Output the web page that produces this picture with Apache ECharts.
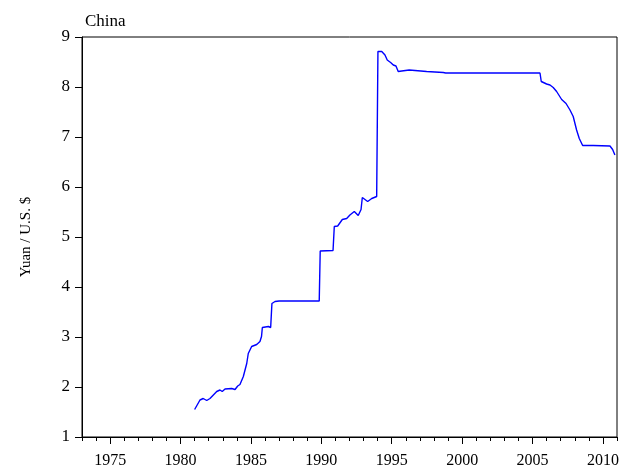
<!DOCTYPE html>
<html>
<head>
<meta charset="utf-8">
<script src="https://cdn.jsdelivr.net/npm/echarts@6/dist/echarts.min.js"></script>
<style>
  html, body { margin: 0; padding: 0; background: #fff; }
  #chart { width: 626px; height: 470px; }
</style>
</head>
<body>
<div id="chart"></div>
<script>
// Yuan per U.S. dollar, China (decimal year, rate)
const years = [
  1981.00, 1981.38, 1981.61, 1981.86, 1982.09, 1982.33, 1982.40, 1982.57, 1982.80, 1982.96,
  1983.16, 1983.63, 1983.87, 1984.06, 1984.22, 1984.46, 1984.70, 1984.81, 1985.05, 1985.41,
  1985.64, 1985.75, 1985.81, 1986.24, 1986.40, 1986.49, 1986.71, 1987.00, 1989.85, 1989.92,
  1990.05, 1990.83, 1990.92, 1991.16, 1991.49, 1991.80, 1992.03, 1992.34, 1992.62, 1992.82,
  1992.91, 1993.05, 1993.29, 1993.58, 1993.93, 1994.02, 1994.29, 1994.52, 1994.68, 1994.92,
  1995.11, 1995.30, 1995.46, 1995.71, 1996.24, 1997.48, 1998.66, 1998.83, 2005.53, 2005.62,
  2006.00, 2006.24, 2006.47, 2006.71, 2007.07, 2007.38, 2007.66, 2007.89, 2008.13, 2008.32,
  2008.56, 2009.31, 2010.50, 2010.69, 2010.85
];
const rates = [
  1.55, 1.74, 1.77, 1.73, 1.77, 1.84, 1.81, 1.91, 1.94, 1.91,
  1.96, 1.97, 1.95, 2.02, 2.05, 2.21, 2.47, 2.67, 2.81, 2.85,
  2.91, 3.01, 3.19, 3.21, 3.19, 3.67, 3.71, 3.72, 3.72, 4.72,
  4.73, 4.73, 5.21, 5.22, 5.35, 5.37, 5.44, 5.51, 5.43, 5.55,
  5.79, 5.75, 5.71, 5.77, 5.81, 8.71, 8.71, 8.64, 8.54, 8.49,
  8.44, 8.42, 8.31, 8.32, 8.34, 8.31, 8.29, 8.28, 8.28, 8.11,
  8.06, 8.04, 7.99, 7.91, 7.75, 7.67, 7.54, 7.41, 7.14, 6.97,
  6.83, 6.83, 6.82, 6.75, 6.64
];
const labelYears = [1975, 1980, 1985, 1990, 1995, 2000, 2005, 2010];
const minorYears = [];
for (let y = 1973; y <= 2011; y++) minorYears.push(y);

const serif = '"Liberation Serif", "Times New Roman", serif';
const chart = echarts.init(document.getElementById('chart'), null, { renderer: 'canvas' });

chart.setOption({
  animation: false,
  backgroundColor: '#fff',
  title: {
    text: 'China',
    left: 80,
    top: 8,
    textStyle: { fontFamily: serif, fontSize: 17, fontWeight: 'normal', color: '#000' }
  },
  grid: {
    left: 82, right: 9, top: 37, bottom: 33,
    show: true, borderColor: '#000', borderWidth: 1, backgroundColor: 'transparent'
  },
  xAxis: [
    {
      type: 'value', min: 1973, max: 2011,
      axisLine: { show: true, lineStyle: { color: '#000', width: 1 } },
      axisTick: { show: true, inside: false, length: 7, customValues: labelYears, lineStyle: { color: '#000' } },
      axisLabel: {
        show: true, customValues: labelYears, margin: 16, color: '#000',
        fontFamily: serif, fontSize: 16, formatter: v => String(v)
      },
      splitLine: { show: false }
    },
    {
      type: 'value', min: 1973, max: 2011, position: 'bottom',
      axisLine: { show: false },
      axisTick: { show: true, inside: false, length: 4, customValues: minorYears, lineStyle: { color: '#000' } },
      axisLabel: { show: false },
      splitLine: { show: false }
    }
  ],
  yAxis: {
    type: 'value', min: 1, max: 9, interval: 1,
    name: 'Yuan / U.S. $',
    nameLocation: 'middle',
    nameGap: 48,
    nameTextStyle: { fontFamily: serif, fontSize: 15, color: '#000' },
    axisLine: { show: true, lineStyle: { color: '#000', width: 1 } },
    axisTick: { show: true, inside: false, length: 7, lineStyle: { color: '#000' } },
    axisLabel: { margin: 12, color: '#000', fontFamily: serif, fontSize: 17 },
    splitLine: { show: false }
  },
  series: [{
    type: 'line',
    xAxisIndex: 0,
    data: years.map((y, i) => [y, rates[i]]),
    showSymbol: false,
    lineStyle: { color: '#0000ff', width: 1.4 },
    itemStyle: { color: '#0000ff' }
  }]
});
</script>
</body>
</html>
